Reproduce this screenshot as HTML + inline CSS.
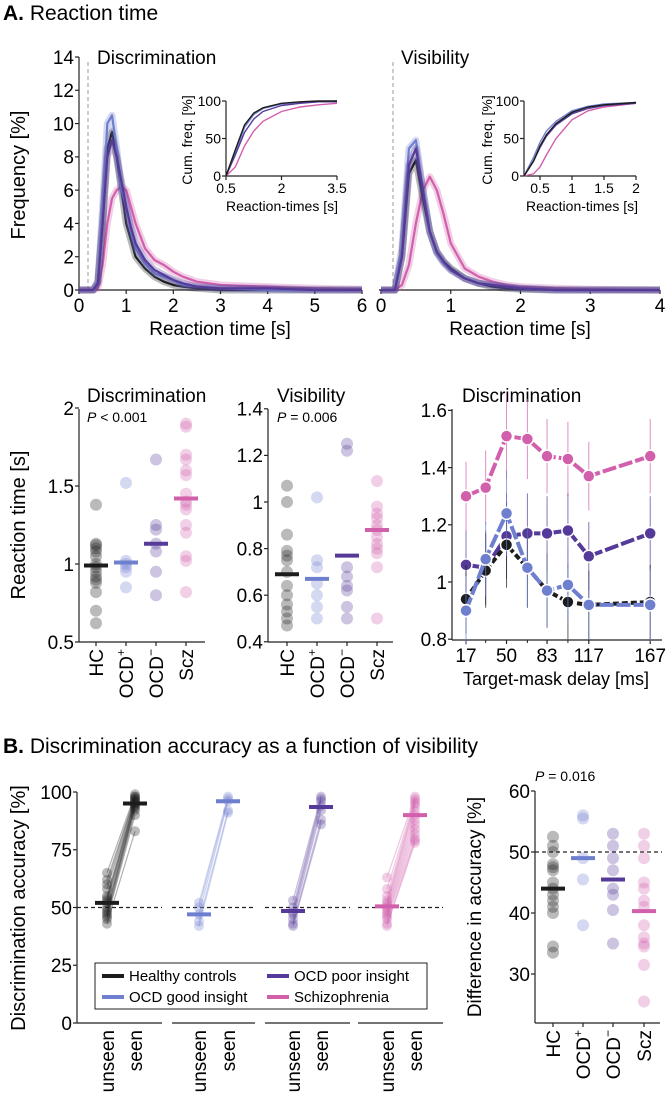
<!DOCTYPE html>
<html><head><meta charset="utf-8">
<style>
html,body{margin:0;padding:0;background:#fff;}
svg{display:block;font-family:"Liberation Sans",sans-serif;}
</style></head>
<body>
<svg id="fig" width="670" height="1102" viewBox="0 0 670 1102" xmlns="http://www.w3.org/2000/svg">
<text x="3" y="20" font-size="21"><tspan font-weight="bold">A.</tspan> Reaction time</text>
<text x="3" y="753" font-size="21"><tspan font-weight="bold">B.</tspan> Discrimination accuracy as a function of visibility</text>
<text x="97" y="64" font-size="19">Discrimination</text>
<text x="401" y="64" font-size="19">Visibility</text>
<text transform="translate(25,175) rotate(-90)" text-anchor="middle" font-size="20">Frequency [%]</text>
<text x="220" y="335" text-anchor="middle" font-size="19">Reaction time [s]</text>
<text x="520" y="335" text-anchor="middle" font-size="19">Reaction time [s]</text>
<text transform="translate(192,140) rotate(-90)" text-anchor="middle" font-size="14">Cum. freq. [%]</text>
<text x="282" y="211" text-anchor="middle" font-size="14">Reaction-times [s]</text>
<text transform="translate(492,140) rotate(-90)" text-anchor="middle" font-size="14">Cum. freq. [%]</text>
<text x="582" y="211" text-anchor="middle" font-size="14">Reaction-times [s]</text>
<text x="87" y="402" font-size="19">Discrimination</text>
<text x="87" y="422" font-size="14"><tspan font-style="italic">P</tspan> &lt; 0.001</text>
<text x="277" y="402" font-size="19">Visibility</text>
<text x="277" y="422" font-size="14"><tspan font-style="italic">P</tspan> = 0.006</text>
<text x="462" y="402" font-size="19">Discrimination</text>
<text transform="translate(25,525) rotate(-90)" text-anchor="middle" font-size="20">Reaction time [s]</text>
<text x="556" y="685" text-anchor="middle" font-size="18">Target-mask delay [ms]</text>
<text transform="translate(25,908) rotate(-90)" text-anchor="middle" font-size="20">Discrimination accuracy [%]</text>
<text transform="translate(481,907) rotate(-90)" text-anchor="middle" font-size="19">Difference in accuracy [%]</text>
<text x="535" y="781" font-size="14"><tspan font-style="italic">P</tspan> = 0.016</text>
<g id="marks"></g>
</svg>
<script>
// ---------- data ----------
const groupNames = ['hc','ocd-good','ocd-poor','scz'];
const groupColors = ['#1c1c1c','#6f7fcf','#553a99','#d25fab'];
const histDiscX = [0,0.3,0.4,0.5,0.6,0.7,0.8,0.9,1.0,1.1,1.2,1.4,1.6,1.8,2.0,2.2,2.5,3.0,4,5,6];
const histDiscHC = [0,0,0.5,4,8.5,9.5,8,6,4,3,2,1.3,0.8,0.5,0.3,0.2,0.1,0,0,0,0];
const histDiscOCDg = [0,0,0.5,5,10,10.5,8.5,6,5,3.5,2.5,1.6,1,0.8,0.6,0.3,0.2,0.1,0,0,0];
const histDiscOCDp = [0,0,0.4,4,8,9,8,6.5,5,3.8,2.8,1.8,1.2,0.9,0.6,0.4,0.2,0.1,0.1,0,0];
const histDiscScz = [0,0,0.1,1.5,4,5.5,6,6.2,6,5,4,2.5,1.8,1.5,1.1,0.8,0.5,0.3,0.2,0.1,0.05];
const histVisX = [0,0.2,0.3,0.4,0.5,0.6,0.7,0.8,0.9,1.0,1.2,1.4,1.6,1.8,2.0,2.5,3,4];
const histVisHC = [0,0,2,7,7.8,5.5,3.5,2.3,1.7,1.3,0.7,0.4,0.2,0.1,0.05,0,0,0];
const histVisOCDg = [0,0,2.5,8.5,9,6,3.5,2.2,1.6,1.2,0.7,0.4,0.3,0.2,0.1,0,0,0];
const histVisOCDp = [0,0,2,7.5,8.5,6,3.5,2.3,1.7,1.2,0.7,0.4,0.3,0.2,0.1,0,0,0];
const histVisScz = [0,0,0.3,1.5,4,6,6.8,6,4.5,2.8,1.3,0.8,0.5,0.3,0.2,0.1,0.05,0];
const cumDiscX = [0.5,0.75,1,1.25,1.5,2,2.5,3,3.5];
const cumDiscHC = [0,35,68,84,91,97,99,100,100];
const cumDiscOCDg = [0,30,65,82,90,96,98,99,100];
const cumDiscOCDp = [0,28,58,76,86,94,97,99,99];
const cumDiscScz = [0,12,40,60,73,86,92,95,97];
const cumVisX = [0.25,0.4,0.5,0.6,0.75,1,1.25,1.5,2];
const cumVisHC = [0,20,40,55,70,85,92,95,98];
const cumVisOCDg = [0,25,45,60,73,87,93,96,98];
const cumVisOCDp = [0,20,38,53,68,83,90,94,97];
const cumVisScz = [0,3,12,28,50,75,87,92,97];
const rtDiscHC = [1.38,1.13,1.12,1.1,1.08,1.05,1.0,0.98,0.95,0.92,0.9,0.88,0.82,0.7,0.62];
const rtDiscOCDg = [1.52,1.02,1.0,0.98,0.95,0.85];
const rtDiscOCDp = [1.67,1.25,1.22,1.13,1.08,0.95,0.8];
const rtDiscScz = [1.9,1.88,1.7,1.67,1.6,1.57,1.45,1.4,1.38,1.35,1.25,1.2,1.05,1.02,0.82];
const rtDiscMeans = [0.99,1.01,1.13,1.42];
const rtVisHC = [1.07,1.0,0.86,0.79,0.77,0.75,0.7,0.64,0.6,0.56,0.53,0.5,0.47];
const rtVisOCDg = [1.02,0.75,0.72,0.65,0.6,0.55,0.5];
const rtVisOCDp = [1.25,1.22,0.72,0.68,0.64,0.62,0.55,0.5];
const rtVisScz = [1.09,0.98,0.95,0.93,0.9,0.88,0.85,0.82,0.8,0.78,0.72,0.5];
const rtVisMeans = [0.69,0.67,0.77,0.88];
const delays = [17,33,50,67,83,100,117,167];
const delayTicks = [17,50,83,117,167];
const delayHC = [0.94,1.04,1.13,1.05,0.97,0.93,0.92,0.93];
const delayOCDg = [0.90,1.08,1.24,1.05,0.97,0.99,0.92,0.92];
const delayOCDp = [1.06,1.05,1.16,1.17,1.17,1.18,1.09,1.17];
const delayScz = [1.30,1.33,1.51,1.50,1.44,1.43,1.37,1.44];
const delayErr = [0.12,0.13,0.15,0.14,0.13,0.13,0.12,0.13];
const accUnseenHC = [65,62,60,58,55,54,53,52,50,49,48,47,46,45,43];
const accSeenHC = [99,98,98,97,97,96,96,95,95,94,94,93,92,90,83];
const accUnseenOCDg = [52,50,47,44,42];
const accSeenOCDg = [98,97,96,92,91];
const accUnseenOCDp = [53,50,48,47,45,43,42];
const accSeenOCDp = [98,97,96,94,92,88,86];
const accUnseenScz = [63,58,55,53,52,51,50,49,48,47,46,45,43,42];
const accSeenScz = [98,97,96,95,94,92,90,88,86,84,82,80,79,78];
const accMeansUnseen = [52,47,48.5,50.5];
const accMeansSeen = [95,96,93.5,90];
const diffHC = [52.5,51,50,48,47.5,47,45,44,43,42,41,40,34.5,33.5];
const diffOCDg = [56,55.5,49,45.5,38];
const diffOCDp = [53,51,49,47,44,43,40.5,35];
const diffScz = [53,51,49,45,44,42,41,38,36,35,34.5,31.5,25.5];
const diffMeans = [44,49,45.5,40.3];

// ---------- helpers ----------
const NS='http://www.w3.org/2000/svg';
const root=document.getElementById('marks');
function mk(tag,attrs){const e=document.createElementNS(NS,tag);for(const k in attrs)e.setAttribute(k,attrs[k]);root.appendChild(e);return e;}
function pathD(xs,ys,fx,fy){return xs.map((x,i)=>(i?'L':'M')+fx(x).toFixed(1)+','+fy(ys[i]).toFixed(1)).join(' ');}
function yAxis(x,y0,y1,ticks,fy,fs,name){
  const l=mk('line',{x1:x,x2:x,y1:y0,y2:y1,stroke:'#222','stroke-width':1.2});
  
  
  ticks.forEach(t=>{
    const tk=mk('line',{x1:x-4,x2:x,y1:fy(t),y2:fy(t),stroke:'#222','stroke-width':1.2});
    
    
    const tx=mk('text',{x:x-5,y:fy(t)+fs*0.36,'text-anchor':'end','font-size':fs});
    tx.textContent=t;
    
    
  });
}
function xAxis(y,x0,x1,ticks,fx,fs,name,labels){
  const l=mk('line',{x1:x0,x2:x1,y1:y,y2:y,stroke:'#222','stroke-width':1.2});
  
  
  ticks.forEach((t,i)=>{
    const tk=mk('line',{x1:fx(t),x2:fx(t),y1:y,y2:y+4,stroke:'#222','stroke-width':1.2});
    
    
    if(labels!==null){
      const tx=mk('text',{x:fx(t),y:y+fs+3,'text-anchor':'middle','font-size':fs});
      tx.textContent=labels?labels[i]:t;
      
      
    }
  });
}
function rotLabel(x,y,txt,sup,name){
  const t=mk('text',{transform:`translate(${x+7},${y}) rotate(-90)`,'text-anchor':'end','font-size':19});
  
  
  t.appendChild(document.createTextNode(txt));
  if(sup){const s=document.createElementNS(NS,'tspan');s.setAttribute('font-size',12);s.setAttribute('dy',-8);s.textContent=sup;t.appendChild(s);}
}
const catLabels=[['HC',''],['OCD','+'],['OCD','\u2212'],['Scz','']];

// ---------- histograms ----------
const p1x=s=>79+s*283/6, p2x=s=>381+s*69.75, py=v=>290-v*233/14;
yAxis(79,290,57,[0,2,4,6,8,10,12,14],py,19,'hist-disc');
xAxis(290,79,362,[0,1,2,3,4,5,6],p1x,19,'hist-disc');
xAxis(290,379,660,[0,1,2,3,4],p2x,19,'hist-vis');
[[88],[393]].forEach((d,i)=>{const l=mk('line',{x1:d[0],x2:d[0],y1:62,y2:290,stroke:'#999','stroke-dasharray':'4 3','stroke-width':1});
  
  });
const hDisc=[histDiscHC,histDiscOCDg,histDiscOCDp,histDiscScz];
const hVis=[histVisHC,histVisOCDg,histVisOCDp,histVisScz];
[3,0,1,2].forEach(g=>{
  [[histDiscX,hDisc[g],p1x,'disc'],[histVisX,hVis[g],p2x,'vis']].forEach(([xs,ys,fx,nm])=>{
    const band=mk('path',{d:pathD(xs,ys,fx,py),fill:'none',stroke:groupColors[g],'stroke-opacity':0.3,'stroke-width':7,'stroke-linejoin':'round'});
    
    
    const ln=mk('path',{d:pathD(xs,ys,fx,py),fill:'none',stroke:groupColors[g],'stroke-width':2.2,'stroke-linejoin':'round'});
    
    
  });
});
const i1x=s=>226+(s-0.5)*37, i2x=s=>540+(s-0.5)*64, iy=v=>176-v*0.75;
yAxis(226,176,101,[0,50,100],iy,14,'inset-disc');
xAxis(176,226,337,[0.5,2,3.5],i1x,14,'inset-disc');
yAxis(524,176,101,[0,50,100],iy,14,'inset-vis');
xAxis(176,524,636,[0.5,1,1.5,2],i2x,14,'inset-vis');
const cD=[cumDiscHC,cumDiscOCDg,cumDiscOCDp,cumDiscScz], cV=[cumVisHC,cumVisOCDg,cumVisOCDp,cumVisScz];
[3,1,2,0].forEach(g=>{
  const a=mk('path',{d:pathD(cumDiscX,cD[g],i1x,iy),fill:'none',stroke:groupColors[g],'stroke-width':1.4});
  
  
  const b=mk('path',{d:pathD(cumVisX,cV[g],i2x,iy),fill:'none',stroke:groupColors[g],'stroke-width':1.4});
  
  
});

// ---------- RT scatter ----------
function scatter(name,ax,axEnd,yTop,yBot,ticks,fy,cx,groups,means){
  yAxis(ax,yBot,yTop,ticks,fy,19,name);
  xAxis(yBot,ax,axEnd,[0,1,2,3],i=>cx[i],17,name,null);
  groups.forEach((vals,g)=>{
    vals.forEach(v=>{
      const c=mk('circle',{cx:cx[g],cy:fy(v),r:6,fill:groupColors[g],'fill-opacity':0.3});
      
      
    });
    const m=mk('line',{x1:cx[g]-12,x2:cx[g]+12,y1:fy(means[g]),y2:fy(means[g]),stroke:groupColors[g],'stroke-width':4});
    
    
    rotLabel(cx[g],yBot+7,catLabels[g][0],catLabels[g][1],name+'-category-label');
  });
}
const r1y=v=>564-(v-1)*156, r2y=v=>502-(v-1)*233;
scatter('rt-disc',79,205,409,642,[0.5,1,1.5,2],r1y,[96,126,156,186],[rtDiscHC,rtDiscOCDg,rtDiscOCDp,rtDiscScz],rtDiscMeans);
scatter('rt-vis',268,393,409,642,[0.4,0.6,0.8,1,1.2,1.4],r2y,[287,317,347,377],[rtVisHC,rtVisOCDg,rtVisOCDp,rtVisScz],rtVisMeans);

// ---------- delay lines ----------
const r3x=d=>466+(d-17)*1.228, r3y=v=>582-(v-1)*286;
yAxis(452,640,409,[0.8,1,1.2,1.4,1.6],r3y,19,'delay');
xAxis(640,452,662,delayTicks,r3x,19,'delay');
[33,67,100].forEach(d=>{const t=mk('line',{x1:r3x(d),x2:r3x(d),y1:640,y2:643,stroke:'#222'});
  
  });
const dl=[delayHC,delayOCDg,delayOCDp,delayScz];
[3,2,0,1].forEach(g=>{
  delays.forEach((d,i)=>{
    const e=mk('line',{x1:r3x(d),x2:r3x(d),y1:r3y(dl[g][i]+delayErr[i]),y2:r3y(dl[g][i]-delayErr[i]),stroke:groupColors[g],'stroke-width':1,'stroke-opacity':0.7});
    
    
  });
  const ln=mk('path',{d:pathD(delays,dl[g],r3x,r3y),fill:'none',stroke:groupColors[g],'stroke-width':4,'stroke-dasharray':g===0?'6 3':'14 3'});
  
  
  delays.forEach((d,i)=>{
    const c=mk('circle',{cx:r3x(d),cy:r3y(dl[g][i]),r:6,fill:groupColors[g],stroke:'#fff','stroke-width':1.5});
    
    
  });
});

// ---------- accuracy ----------
const bAy=v=>1023-v*2.31;
yAxis(77,1023,792,[0,25,50,75,100],bAy,19,'acc');
const segs=[[77,162],[172,255],[265,350],[358,443]];
const uX=[107,199,293,387], sX=[135,228,321,415];
const accU=[accUnseenHC,accUnseenOCDg,accUnseenOCDp,accUnseenScz], accS=[accSeenHC,accSeenOCDg,accSeenOCDp,accSeenScz];
segs.forEach((s,g)=>{
  const l=mk('line',{x1:s[0],x2:s[1],y1:1023,y2:1023,stroke:'#222','stroke-width':1.2});
  
  
  const dsh=mk('line',{x1:s[0],x2:s[1],y1:bAy(50),y2:bAy(50),stroke:'#222','stroke-width':1.2,'stroke-dasharray':'4 3'});
  
  
  accU[g].forEach((u,i)=>{
    const ln=mk('line',{x1:uX[g],y1:bAy(u),x2:sX[g],y2:bAy(accS[g][i]),stroke:groupColors[g],'stroke-opacity':0.35,'stroke-width':1.2});
    
    
    const c1=mk('circle',{cx:uX[g],cy:bAy(u),r:5,fill:groupColors[g],'fill-opacity':0.3});
    
    
    const c2=mk('circle',{cx:sX[g],cy:bAy(accS[g][i]),r:5,fill:groupColors[g],'fill-opacity':0.3});
    
    
  });
  const m1=mk('line',{x1:uX[g]-12,x2:uX[g]+12,y1:bAy(accMeansUnseen[g]),y2:bAy(accMeansUnseen[g]),stroke:groupColors[g],'stroke-width':4});
  
  
  const m2=mk('line',{x1:sX[g]-12,x2:sX[g]+12,y1:bAy(accMeansSeen[g]),y2:bAy(accMeansSeen[g]),stroke:groupColors[g],'stroke-width':4});
  
  
  rotLabel(uX[g],1030,'unseen','','acc-unseen-label');
  rotLabel(sX[g],1030,'seen','','acc-seen-label');
});
const lb=mk('rect',{x:95,y:963,width:332,height:46,fill:'#fff',stroke:'#222','stroke-width':1});


const legText=['Healthy controls','OCD good insight','OCD poor insight','Schizophrenia'];
const legPos=[[102,981],[102,1002],[267,981],[267,1002]];
legText.forEach((t,g)=>{
  const ln=mk('line',{x1:legPos[g][0],x2:legPos[g][0]+22,y1:legPos[g][1]-5,y2:legPos[g][1]-5,stroke:groupColors[g],'stroke-width':4});
  
  
  const tx=mk('text',{x:legPos[g][0]+27,y:legPos[g][1],'font-size':15});
  tx.textContent=t;
  
  
});

// ---------- difference ----------
const bDy=v=>852-(v-50)*6.1;
const dash=mk('line',{x1:535,x2:662,y1:bDy(50),y2:bDy(50),stroke:'#222','stroke-width':1.2,'stroke-dasharray':'4 3'});


scatter('diff',535,660,791,1023,[30,40,50,60],bDy,[553,583,613,644],[diffHC,diffOCDg,diffOCDp,diffScz],diffMeans);
</script>
</body></html>
